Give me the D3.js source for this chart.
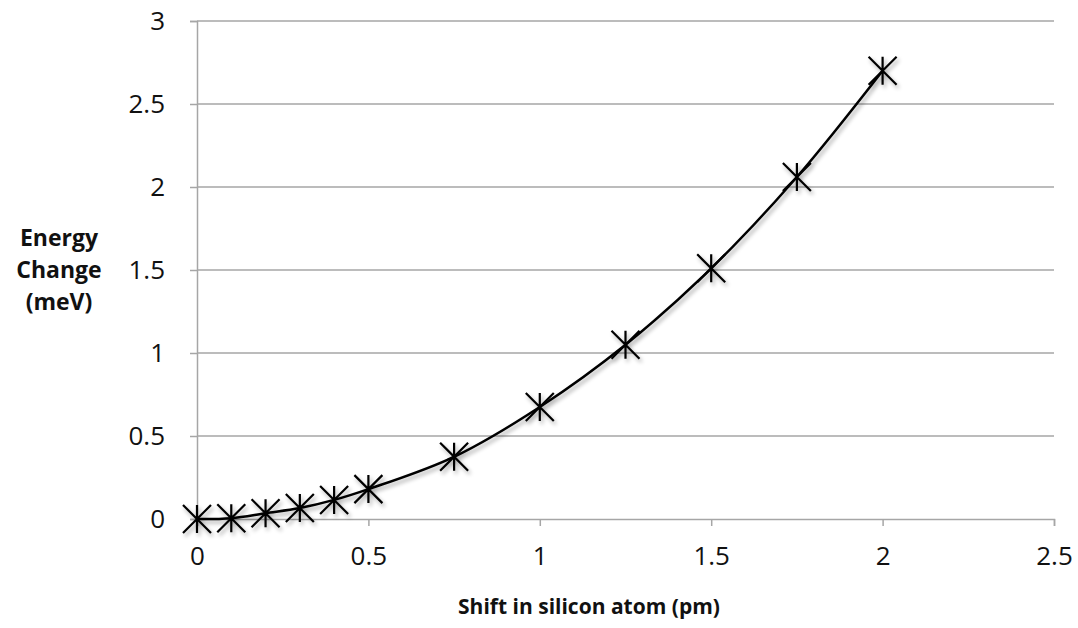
<!DOCTYPE html>
<html>
<head>
<meta charset="utf-8">
<script src="https://cdn.jsdelivr.net/npm/d3@7"></script>
<style>
  html, body { margin: 0; padding: 0; background: #fff; }
  svg text { font-family: "Open Sans", "Liberation Sans", sans-serif; fill: #111; }
</style>
</head>
<body>
<svg id="chart" width="1078" height="628"></svg>
<script>
// Energy change versus displacement of the silicon atom
const shifts = [0, 0.1, 0.2, 0.3, 0.4, 0.5, 0.75, 1, 1.25, 1.5, 1.75, 2];
const energies = [0, 0.005, 0.035, 0.066, 0.115, 0.18, 0.375, 0.675, 1.05, 1.51, 2.06, 2.70];
const xTicks = [0, 0.5, 1, 1.5, 2, 2.5];
const yTicks = [0, 0.5, 1, 1.5, 2, 2.5, 3];
const xTitle = "Shift in silicon atom (pm)";
const yTitleLines = ["Energy", "Change", "(meV)"];

const svg = d3.select("#chart");
const plotLeft = 197, plotRight = 1054, plotTop = 21, plotBottom = 519;

const x = d3.scaleLinear().domain([0, 2.5]).range([plotLeft, plotRight]);
const y = d3.scaleLinear().domain([0, 3]).range([plotBottom, plotTop]);

const defs = svg.append("defs");
const f = defs.append("filter").attr("id", "shadow")
  .attr("x", "-20%").attr("y", "-20%").attr("width", "140%").attr("height", "140%");
f.append("feGaussianBlur").attr("in", "SourceAlpha").attr("stdDeviation", 2.2).attr("result", "b");
f.append("feOffset").attr("in", "b").attr("dx", 2).attr("dy", 3).attr("result", "o");
f.append("feComponentTransfer").attr("in", "o").attr("result", "s")
  .append("feFuncA").attr("type", "linear").attr("slope", 0.35);
const m = f.append("feMerge");
m.append("feMergeNode").attr("in", "s");
m.append("feMergeNode").attr("in", "SourceGraphic");

// horizontal gridlines
svg.append("g").selectAll("line").data(yTicks.filter(d => d > 0)).join("line")
  .attr("x1", plotLeft).attr("x2", plotRight)
  .attr("y1", d => y(d)).attr("y2", d => y(d))
  .attr("stroke", "#a6a6a6").attr("stroke-width", 1.5);

// y axis
const yAxis = svg.append("g").attr("transform", `translate(${plotLeft},0)`)
  .call(d3.axisLeft(y).tickValues(yTicks).tickSize(7).tickPadding(25).tickFormat(d3.format("")));
yAxis.select(".domain").attr("stroke", "#a6a6a6").attr("stroke-width", 1.5);
yAxis.selectAll(".tick line").attr("stroke", "#a6a6a6").attr("stroke-width", 1.5);
yAxis.selectAll(".tick text").attr("font-size", 26).attr("fill", "#111")
  .attr("font-family", "Open Sans, Liberation Sans, sans-serif");

// x axis
const xAxis = svg.append("g").attr("transform", `translate(0,${plotBottom})`)
  .call(d3.axisBottom(x).tickValues(xTicks).tickSize(7).tickPadding(21).tickFormat(d3.format("")));
xAxis.select(".domain").attr("stroke", "#a6a6a6").attr("stroke-width", 1.5);
xAxis.selectAll(".tick line").attr("stroke", "#a6a6a6").attr("stroke-width", 1.5);
xAxis.selectAll(".tick text").attr("font-size", 26).attr("fill", "#111")
  .attr("font-family", "Open Sans, Liberation Sans, sans-serif");

// axis titles
svg.append("text").attr("x", 589).attr("y", 614)
  .attr("text-anchor", "middle").attr("font-size", 21).attr("font-weight", "bold")
  .text(xTitle);
svg.append("g").selectAll("text").data(yTitleLines).join("text")
  .attr("x", 59).attr("y", (d, i) => 246 + i * 32)
  .attr("text-anchor", "middle").attr("font-size", 23).attr("font-weight", "bold")
  .text(d => d);

const pts = shifts.map((s, i) => [s, energies[i]]);
const plot = svg.append("g").attr("filter", "url(#shadow)");

// smoothed curve through the points
const line = d3.line().x(d => x(d[0])).y(d => y(d[1])).curve(d3.curveCatmullRom.alpha(0.5));
plot.append("path").datum(pts).attr("d", line)
  .attr("fill", "none").attr("stroke", "#000").attr("stroke-width", 2.5);

// star markers
const r = 14;
const star = `M${-r},${-r}L${r},${r}M${-r},${r}L${r},${-r}M0,${-r}L0,${r}`;
plot.append("g").selectAll("path").data(pts).join("path")
  .attr("transform", d => `translate(${x(d[0])},${y(d[1])})`)
  .attr("d", star).attr("stroke", "#000").attr("stroke-width", 2.2).attr("fill", "none");
</script>
</body>
</html>
